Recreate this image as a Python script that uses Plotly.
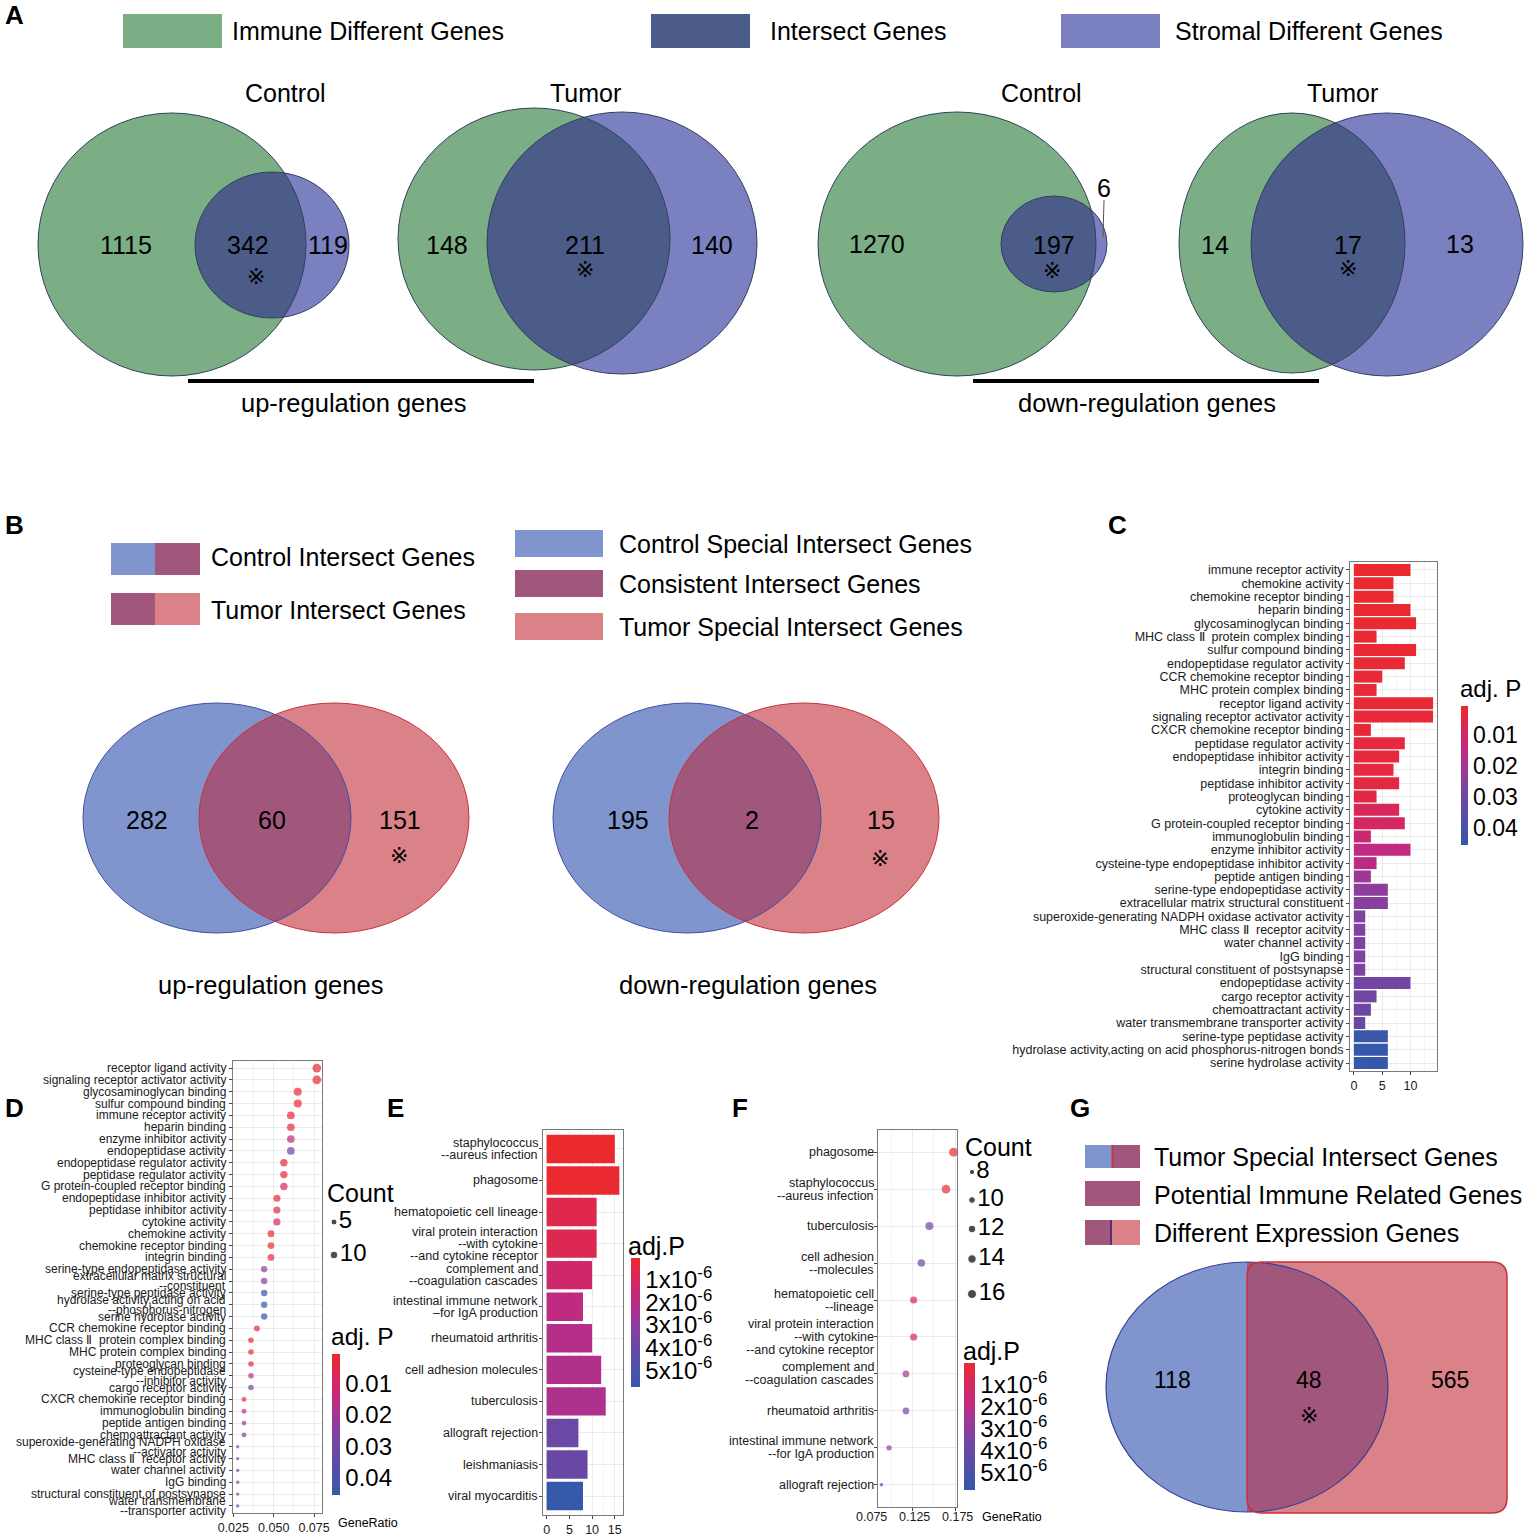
import numpy as np
import plotly.graph_objects as go

W, H = 1527, 1536
FONT = "Liberation Sans, Arial, Helvetica, sans-serif"
SYMF = "DejaVu Sans, Noto Sans CJK SC, sans-serif"
MARK = "\u203b"
SP = "\u00a0"

# ======================= DATA =======================
# Panel A (Venn counts)
a_titles = ["Control", "Tumor", "Control", "Tumor"]
a_immune_only = [1115, 148, 1270, 14]
a_intersect = [342, 211, 197, 17]
a_stromal_only = [119, 140, 6, 13]
a_legend = ["Immune Different Genes", "Intersect Genes", "Stromal Different Genes"]
a_captions = ["up-regulation genes", "down-regulation genes"]

# Panel B (Venn counts)
b_control_special = [282, 195]
b_consistent = [60, 2]
b_tumor_special = [151, 15]
b_captions = ["up-regulation genes", "down-regulation genes"]
b_legend_left = ["Control Intersect Genes", "Tumor Intersect Genes"]
b_legend_right = ["Control Special Intersect Genes", "Consistent Intersect Genes",
                  "Tumor Special Intersect Genes"]

# Panel G (Venn counts)
g_values = [118, 48, 565]
g_legend = ["Tumor Special Intersect Genes", "Potential Immune Related Genes",
            "Different Expression Genes"]

# Panel C (GO bar chart)
c_terms = [
    "immune receptor activity", "chemokine activity", "chemokine receptor binding",
    "heparin binding", "glycosaminoglycan binding",
    "MHC class \u2161" + SP + " protein complex binding", "sulfur compound binding",
    "endopeptidase regulator activity", "CCR chemokine receptor binding",
    "MHC protein complex binding", "receptor ligand activity",
    "signaling receptor activator activity", "CXCR chemokine receptor binding",
    "peptidase regulator activity", "endopeptidase inhibitor activity", "integrin binding",
    "peptidase inhibitor activity", "proteoglycan binding", "cytokine activity",
    "G protein-coupled receptor binding", "immunoglobulin binding",
    "enzyme inhibitor activity", "cysteine-type endopeptidase inhibitor activity",
    "peptide antigen binding", "serine-type endopeptidase activity",
    "extracellular matrix structural constituent",
    "superoxide-generating NADPH oxidase activator activity",
    "MHC class \u2161" + SP + " receptor acitvity", "water channel activity", "IgG binding",
    "structural constituent of postsynapse", "endopeptidase activity",
    "cargo receptor activity", "chemoattractant activity",
    "water transmembrane transporter activity", "serine-type peptidase activity",
    "hydrolase activity,acting on acid phosphorus-nitrogen bonds",
    "serine hydrolase activity",
]
c_count = [10, 7, 7, 10, 11, 4, 11, 9, 5, 4, 14, 14, 3, 9, 8, 7, 8, 4, 8, 9, 3, 10, 4, 3,
           6, 6, 2, 2, 2, 2, 2, 10, 4, 3, 2, 6, 6, 6]
c_padj = [0.0006, 0.0010, 0.0011, 0.0012, 0.0013, 0.0015, 0.0016, 0.0018, 0.0019, 0.0021,
          0.0023, 0.0023, 0.0026, 0.0029, 0.0031, 0.0034, 0.0037, 0.0041, 0.0075, 0.0085,
          0.0115, 0.0150, 0.0160, 0.0205, 0.0240, 0.0245, 0.0265, 0.0265, 0.0265, 0.0265,
          0.0265, 0.0290, 0.0295, 0.0300, 0.0320, 0.0440, 0.0455, 0.0455]

# Panel D (GO dot plot)
d_terms = [
    "receptor ligand activity", "signaling receptor activator activity",
    "glycosaminoglycan binding", "sulfur compound binding", "immune receptor activity",
    "heparin binding", "enzyme inhibitor activity", "endopeptidase activity",
    "endopeptidase regulator activity", "peptidase regulator activity",
    "G protein-coupled receptor binding", "endopeptidase inhibitor activity",
    "peptidase inhibitor activity", "cytokine activity", "chemokine activity",
    "chemokine receptor binding", "integrin binding", "serine-type endopeptidase activity",
    "extracellular matrix structural<br>--constituent", "serine-type peptidase activity",
    "hydrolase activity,acting on acid<br>--phosphorus-nitrogen", "serine hydrolase activity",
    "CCR chemokine receptor binding", "MHC class \u2161" + SP + " protein complex binding",
    "MHC protein complex binding", "proteoglycan binding",
    "cysteine-type endopeptidase<br>--inhibitor activity", "cargo receptor activity",
    "CXCR chemokine receptor binding", "immunoglobulin binding", "peptide antigen binding",
    "chemoattractant activity", "superoxide-generating NADPH oxidase<br>--activator activity",
    "MHC class \u2161" + SP + " receptor activity", "water channel activity", "IgG binding",
    "structural constituent of postsynapse", "water transmembrane<br>--transporter activity",
]
d_ratio = [0.0767, 0.0767, 0.0649, 0.0649, 0.0606, 0.0606, 0.0606, 0.0606, 0.0563, 0.0563,
           0.0563, 0.0520, 0.0520, 0.0520, 0.0483, 0.0483, 0.0483, 0.0441, 0.0441, 0.0441,
           0.0441, 0.0441, 0.0396, 0.0359, 0.0359, 0.0359, 0.0359, 0.0359, 0.0316, 0.0316,
           0.0316, 0.0316, 0.0277, 0.0277, 0.0277, 0.0277, 0.0277, 0.0277]
d_count = [14, 14, 11, 11, 10, 10, 10, 10, 9, 9, 9, 8, 8, 8, 7, 7, 7, 6, 6, 6, 6, 6, 5, 4, 4,
           4, 4, 4, 3, 3, 3, 3, 2, 2, 2, 2, 2, 2]
d_padj = [0.0023, 0.0023, 0.0013, 0.0016, 0.0006, 0.0012, 0.0150, 0.0290, 0.0018, 0.0029,
          0.0085, 0.0031, 0.0037, 0.0075, 0.0010, 0.0011, 0.0034, 0.0240, 0.0245, 0.0440,
          0.0455, 0.0455, 0.0019, 0.0015, 0.0021, 0.0041, 0.0160, 0.0295, 0.0026, 0.0115,
          0.0205, 0.0300, 0.0265, 0.0265, 0.0265, 0.0265, 0.0265, 0.0320]

# Panel E (KEGG bar chart)
e_terms = ["staphylococcus<br>--aureus infection", "phagosome", "hematopoietic cell lineage",
           "viral protein interaction<br>--with cytokine<br>--and cytokine receptor",
           "complement and<br>--coagulation cascades",
           "intestinal immune network<br>\u2013for IgA production", "rheumatoid arthritis",
           "cell adhesion molecules", "tuberculosis", "allograft rejection", "leishmaniasis",
           "viral myocarditis"]
e_count = [15, 16, 11, 11, 10, 8, 10, 12, 13, 7, 9, 8]
e_padj = [2e-8, 5e-8, 6e-7, 7e-7, 1.3e-6, 1.9e-6, 2.1e-6, 2.2e-6, 2.3e-6, 3.9e-6, 4.0e-6,
          5.75e-6]

# Panel F (KEGG dot plot)
f_terms = ["phagosome", "staphylococcus<br>--aureus infection", "tuberculosis",
           "cell adhesion<br>--molecules", "hematopoietic cell<br>--lineage",
           "viral protein interaction<br>--with cytokine<br>--and cytokine receptor",
           "complement and<br>--coagulation cascades", "rheumatoid arthritis",
           "intestinal immune network<br>--for IgA production", "allograft rejection"]
f_ratio = [0.1730, 0.1642, 0.1448, 0.1354, 0.1264, 0.1264, 0.1174, 0.1174, 0.0977, 0.0888]
f_count = [16, 15, 13, 12, 11, 11, 10, 10, 8, 7]
f_padj = [1e-8, 2e-7, 3.9e-6, 3.8e-6, 8e-7, 9e-7, 2.3e-6, 3.5e-6, 2.7e-6, 5.8e-6]

# colourbar / legend / axis tick values
p_ticks_go = [0.01, 0.02, 0.03, 0.04]
p_ticks_kegg = [1e-6, 2e-6, 3e-6, 4e-6, 5e-6]
d_count_legend = [5, 10]
f_count_legend = [8, 10, 12, 14, 16]
f_ratio_ticks = [0.075, 0.125, 0.175]

# ======================= STYLE / GEOMETRY =======================
GREEN, INTER, PURP = "#7BAE84", "#4B5C88", "#7A80C0"
BLUE, MAUVE, PINK = "#8095CD", "#A0577B", "#DA8288"
RB = [[0, "#EC2A2D"], [0.15, "#D9275A"], [0.32, "#C02A80"], [0.45, "#9F3795"],
      [0.55, "#8541A0"], [0.7, "#6649A4"], [1, "#3558AA"]]

# plot panels (pixel boxes: left, right, top, bottom)
BOX_C = (1350, 1437, 562, 1071)
BOX_D = (233, 322, 1061, 1513)
BOX_E = (543, 623, 1130, 1515)
BOX_F = (878, 957, 1130, 1507)
RANGE_F = [0.0848, 0.177]


def dx(l, r):
    return [l / W, r / W]


def dy(t, b):
    return [1 - b / H, 1 - t / H]


shapes, annots = [], []


def txt(x, y, s, size, xanchor="center", family=FONT, bold=False, color="black"):
    if bold:
        s = "<b>" + s + "</b>"
    annots.append(dict(x=x, y=y, xref="x5", yref="y5", text=s, showarrow=False,
                       xanchor=xanchor, yanchor="middle",
                       font=dict(family=family, size=size, color=color)))


def rect(x0, y0, x1, y1, fill):
    shapes.append(dict(type="rect", xref="x5", yref="y5", x0=x0, y0=y0, x1=x1, y1=y1,
                       fillcolor=fill, line=dict(width=0)))


def line(x0, y0, x1, y1, color="black", w=1):
    shapes.append(dict(type="line", xref="x5", yref="y5", x0=x0, y0=y0, x1=x1, y1=y1,
                       line=dict(color=color, width=w)))


def ellipse(e, fill=None, lc=None, lw=0):
    cx, cy, rx, ry = e
    shapes.append(dict(type="circle", xref="x5", yref="y5", x0=cx - rx, x1=cx + rx,
                       y0=cy - ry, y1=cy + ry, fillcolor=fill or "rgba(0,0,0,0)",
                       line=dict(width=lw, color=lc or "rgba(0,0,0,0)")))


def path(p, fill=None, lc=None, lw=0):
    shapes.append(dict(type="path", xref="x5", yref="y5", path=p,
                       fillcolor=fill or "rgba(0,0,0,0)",
                       line=dict(width=lw, color=lc or "rgba(0,0,0,0)")))


def inside(x, y, e):
    cx, cy, rx, ry = e
    return ((x - cx) / rx) ** 2 + ((y - cy) / ry) ** 2 <= 1.0


def poly_path(xs, ys):
    mx, my = xs.mean(), ys.mean()
    o = np.argsort(np.arctan2(ys - my, xs - mx))
    pts = [f"{x:.2f},{y:.2f}" for x, y in zip(xs[o], ys[o])]
    return "M " + " L ".join(pts) + " Z"


def lens(e1, e2, n=900):
    t = np.linspace(0, 2 * np.pi, n, endpoint=False)
    x1 = e1[0] + e1[2] * np.cos(t); y1 = e1[1] + e1[3] * np.sin(t)
    x2 = e2[0] + e2[2] * np.cos(t); y2 = e2[1] + e2[3] * np.sin(t)
    m1 = inside(x1, y1, e2); m2 = inside(x2, y2, e1)
    return poly_path(np.concatenate([x1[m1], x2[m2]]), np.concatenate([y1[m1], y2[m2]]))


def ellipse_rect(e, r, n=900):
    x0, y0, x1, y1 = r
    t = np.linspace(0, 2 * np.pi, n, endpoint=False)
    ex = e[0] + e[2] * np.cos(t); ey = e[1] + e[3] * np.sin(t)
    m = (ex >= x0) & (ex <= x1) & (ey >= y0) & (ey <= y1)
    s = np.linspace(0, 1, 300)
    bx = np.concatenate([x0 + (x1 - x0) * s, np.full_like(s, x1), x1 - (x1 - x0) * s, np.full_like(s, x0)])
    by = np.concatenate([np.full_like(s, y0), y0 + (y1 - y0) * s, np.full_like(s, y1), y1 - (y1 - y0) * s])
    mb = inside(bx, by, e)
    return poly_path(np.concatenate([ex[m], bx[mb]]), np.concatenate([ey[m], by[mb]]))


def rrect(x0, y0, x1, y1, r):
    return (f"M {x0 + r},{y0} L {x1 - r},{y0} Q {x1},{y0} {x1},{y0 + r} L {x1},{y1 - r} "
            f"Q {x1},{y1} {x1 - r},{y1} L {x0 + r},{y1} Q {x0},{y1} {x0},{y1 - r} "
            f"L {x0},{y0 + r} Q {x0},{y0} {x0 + r},{y0} Z")


def cat_labels(terms, yref, x_right, size, gap):
    """Category labels drawn line by line (tight line spacing like the original)."""
    for t in terms:
        parts = t.split("<br>")
        n = len(parts)
        for i, p in enumerate(parts):
            annots.append(dict(x=x_right / W, xref="paper", y=t, yref=yref, text=p,
                               showarrow=False, xanchor="right", yanchor="middle",
                               yshift=((n - 1) / 2 - i) * gap, borderpad=0,
                               font=dict(family=FONT, size=size, color="#1A1A1A")))


# ---------- panel letters ----------
for L, (x, y) in zip("ABCDEFG", [(14, 15), (14, 525), (1117, 525), (14, 1108), (395, 1108),
                                   (740, 1108), (1080, 1108)]):
    txt(x, y, L, 26, bold=True)

# ---------- Panel A ----------
for (x0, x1, tx), col, lab in zip([(123, 222, 230), (651, 750, 768), (1061, 1160, 1173)],
                                  [GREEN, INTER, PURP], a_legend):
    rect(x0, 14, x1, 48, col)
    txt(tx, 31, lab, 25, xanchor="left")

A_GEO = [
    dict(imm=(172, 244.5, 134, 131.5), stro=(272, 245, 77, 73), title=(285, 93),
         li=(126, 245), lx=(248, 245), ls=(328, 245), mk=(256, 276)),
    dict(imm=(534, 239, 136, 131), stro=(622, 243, 135, 131), title=(585, 93),
         li=(447, 245), lx=(585, 245), ls=(712, 245), mk=(585, 269)),
    dict(imm=(957, 244, 139, 132), stro=(1054, 244, 53, 48), title=(1041, 93),
         li=(877, 244), lx=(1054, 245), ls=(1104, 188), mk=(1052, 270)),
    dict(imm=(1292, 243, 113, 130), stro=(1387, 244.5, 136, 131.5), title=(1342, 93),
         li=(1215, 245), lx=(1348, 245), ls=(1460, 244), mk=(1348, 268)),
]
for g, ttl, vi, vx, vs in zip(A_GEO, a_titles, a_immune_only, a_intersect, a_stromal_only):
    ellipse(g["imm"], fill=GREEN)
    ellipse(g["stro"], fill=PURP)
    path(lens(g["imm"], g["stro"]), fill=INTER)
    ellipse(g["imm"], lc="#34405E", lw=1)
    ellipse(g["stro"], lc="#34405E", lw=1)
    txt(*g["title"], ttl, 25)
    txt(*g["li"], str(vi), 25)
    txt(*g["lx"], str(vx), 25)
    txt(*g["ls"], str(vs), 25)
    txt(*g["mk"], MARK, 22, family=SYMF)
line(1104, 200, 1103, 237, color="#555555", w=1)
for (x0, x1, y), (cx, cy), cap in zip([(188, 534, 381), (973, 1319, 381)],
                                      [(353, 403), (1147, 403)], a_captions):
    line(x0, y, x1, y, color="black", w=4)
    txt(cx, cy, cap, 25.5)

# ---------- Panel B ----------
rect(111, 543, 155, 575, BLUE); rect(155, 543, 200, 575, MAUVE)
rect(111, 593, 155, 625, MAUVE); rect(155, 593, 200, 625, PINK)
txt(209, 557, b_legend_left[0], 25, xanchor="left")
txt(209, 610, b_legend_left[1], 25, xanchor="left")
for (y0, y1), col, lab in zip([(530, 557), (570, 597), (613, 640)], [BLUE, MAUVE, PINK],
                              b_legend_right):
    rect(515, y0, 603, y1, col)
    txt(617, (y0 + y1) / 2, lab, 25, xanchor="left")

B_GEO = [
    dict(c=(217, 818, 134, 115), t=(334, 818, 135, 115), l1=(147, 820), l2=(272, 820),
         l3=(400, 820), mk=(399, 855), cap=(270, 985)),
    dict(c=(687, 818, 134, 115), t=(804, 818, 135, 115), l1=(628, 820), l2=(752, 820),
         l3=(881, 820), mk=(880, 858), cap=(748, 985)),
]
for g, v1, v2, v3, cap in zip(B_GEO, b_control_special, b_consistent, b_tumor_special,
                              b_captions):
    ellipse(g["c"], fill=BLUE)
    ellipse(g["t"], fill=PINK)
    path(lens(g["c"], g["t"]), fill=MAUVE)
    ellipse(g["c"], lc="#3F4FA2", lw=1)
    ellipse(g["t"], lc="#C8323C", lw=1)
    txt(*g["l1"], str(v1), 25)
    txt(*g["l2"], str(v2), 25)
    txt(*g["l3"], str(v3), 25)
    txt(*g["mk"], MARK, 22, family=SYMF)
    txt(*g["cap"], cap, 25.5)

# ---------- Panel G ----------
rect(1085, 1145, 1112, 1168, BLUE); rect(1112, 1145, 1140, 1168, MAUVE)
line(1112.5, 1145, 1112.5, 1168, color="#D0303A", w=2)
rect(1085, 1181, 1140, 1206, MAUVE)
rect(1085, 1220, 1112, 1245, MAUVE); rect(1112, 1220, 1140, 1245, PINK)
line(1111, 1220, 1111, 1245, color="#5B2C78", w=2)
for y, lab in zip([1157, 1195, 1233], g_legend):
    txt(1152, y, lab, 25, xanchor="left")
G_ELL = (1247, 1387, 141, 125)
G_RECT = (1247, 1262, 1507, 1513)
ellipse(G_ELL, fill=BLUE)
path(rrect(*G_RECT, 15), fill=PINK)
path(ellipse_rect(G_ELL, G_RECT), fill=MAUVE)
ellipse(G_ELL, lc="#3A3F98", lw=1.2)
path(rrect(*G_RECT, 15), lc="#C8303A", lw=1.5)
for (x, y), v in zip([(1172, 1380), (1309, 1380), (1450, 1380)], g_values):
    txt(x, y, str(v), 23)
txt(1309, 1415, MARK, 22, family=SYMF)

# ======================= TRACES =======================
fig = go.Figure()
neg = lambda arr: [-v for v in arr]

fig.add_trace(go.Bar(x=c_count, y=c_terms, orientation="h", width=0.9,
                     marker=dict(color=neg(c_padj), coloraxis="coloraxis", line=dict(width=0)),
                     xaxis="x", yaxis="y"))


def size_d(c):
    lo, hi = min(d_count), max(d_count)
    return 3.3 + 5.4 * np.sqrt((c - lo) / (hi - lo))


def size_f(c):
    lo, hi = min(f_count), max(f_count)
    return 3.5 + 5.5 * np.sqrt((c - lo) / (hi - lo))


fig.add_trace(go.Scatter(x=d_ratio, y=d_terms, mode="markers", cliponaxis=False,
                         marker=dict(size=[size_d(c) for c in d_count], color=neg(d_padj),
                                     coloraxis="coloraxis2", line=dict(width=0)),
                         xaxis="x2", yaxis="y2"))
fig.add_trace(go.Bar(x=e_count, y=e_terms, orientation="h", width=0.9,
                     marker=dict(color=neg(e_padj), coloraxis="coloraxis3", line=dict(width=0)),
                     xaxis="x3", yaxis="y3"))
fig.add_trace(go.Scatter(x=f_ratio, y=f_terms, mode="markers", cliponaxis=False,
                         marker=dict(size=[size_f(c) for c in f_count], color=neg(f_padj),
                                     coloraxis="coloraxis4", line=dict(width=0)),
                         xaxis="x4", yaxis="y4"))

# Count size legends (on the page overlay axis)
fig.add_trace(go.Scatter(x=[334] * len(d_count_legend), y=[1222, 1255], mode="markers+text",
                         text=[str(c) for c in d_count_legend], textposition="middle right",
                         textfont=dict(family=FONT, size=24, color="black"),
                         marker=dict(size=[size_d(c) for c in d_count_legend], color="black"),
                         xaxis="x5", yaxis="y5", cliponaxis=False))
fig.add_trace(go.Scatter(x=[972] * len(f_count_legend), y=[1172, 1200, 1229, 1259, 1294],
                         mode="markers+text",
                         text=[str(c) for c in f_count_legend], textposition="middle right",
                         textfont=dict(family=FONT, size=24, color="black"),
                         marker=dict(size=[size_f(c) for c in f_count_legend], color="black"),
                         xaxis="x5", yaxis="y5", cliponaxis=False))
txt(360, 1193, "Count", 25)
txt(998, 1147, "Count", 25)

# colourbar titles
txt(1490, 688, "adj. P", 24)
txt(362, 1336, "adj. P", 24.5)
txt(656, 1246, "adj.P", 25)
txt(991, 1351, "adj.P", 25)

# axis titles / F tick labels (F labels partly lie left of the panel, drawn in page space)
txt(368, 1523, "GeneRatio", 12.5)
txt(1012, 1517, "GeneRatio", 12.5)
for v in f_ratio_ticks:
    px = BOX_F[0] + (v - RANGE_F[0]) / (RANGE_F[1] - RANGE_F[0]) * (BOX_F[1] - BOX_F[0])
    txt(px + 2, 1517, f"{v:.3f}", 12.5, color="#1A1A1A")

# category labels with tight line spacing
cat_labels(d_terms, "y2", BOX_D[0] - 6, 12, 10)
cat_labels(e_terms, "y3", BOX_E[0] - 4, 12.5, 12)
cat_labels(f_terms, "y4", BOX_F[0] - 3, 12.5, 13)

# ======================= LAYOUT =======================
TICKF = lambda s: dict(family=FONT, size=s, color="#1A1A1A")
base = dict(showline=True, mirror=True, linecolor="#7A7A7A", linewidth=1, ticks="outside",
            ticklen=3, tickcolor="#444444", tickwidth=1, showgrid=True, gridcolor="#EBEBEB",
            gridwidth=1, zeroline=False, automargin=False, fixedrange=True)
minor = lambda vals: dict(tickvals=vals, showgrid=True, gridcolor="#F3F3F3", gridwidth=1,
                          ticks="")


def cat_axis(box, terms, anchor, show_labels=True, size=12):
    return dict(base, domain=dy(box[2], box[3]), anchor=anchor, type="category",
                categoryorder="array", categoryarray=terms, tickmode="array",
                tickvals=terms, ticktext=terms, showticklabels=show_labels,
                range=[len(terms) - 0.4, -0.6], tickfont=TICKF(size))


def cbar(x, top, bot, thick, vals, texts, size):
    return dict(x=x / W, xanchor="left", xpad=0, y=1 - (top + bot) / 2 / H, yanchor="middle",
                ypad=0, len=bot - top, lenmode="pixels", thickness=thick,
                thicknessmode="pixels", outlinewidth=0, ticks="", tickvals=vals,
                ticktext=texts, tickfont=dict(family=FONT, size=size, color="black"))


go_txt = [f"{v:.2f}" for v in p_ticks_go]
kg_txt = [f"{int(round(v * 1e6))}x10<sup>-6</sup>" for v in p_ticks_kegg]

fig.update_layout(
    width=W, height=H, margin=dict(l=0, r=0, t=0, b=0), template="none",
    paper_bgcolor="white", plot_bgcolor="rgba(0,0,0,0)", showlegend=False,
    font=dict(family=FONT, color="black"),
    # C
    xaxis=dict(base, domain=dx(BOX_C[0], BOX_C[1]), anchor="y", range=[-0.7, 14.7],
               tickvals=[0, 5, 10], tickfont=TICKF(12.5), minor=minor([2.5, 7.5, 12.5])),
    yaxis=cat_axis(BOX_C, c_terms, "x", True, 12.5),
    # D
    xaxis2=dict(base, domain=dx(BOX_D[0], BOX_D[1]), anchor="y2", range=[0.0248, 0.0799],
                tickvals=[0.025, 0.05, 0.075], ticktext=["0.025", "0.050", "0.075"],
                tickfont=TICKF(12.5), minor=minor([0.0375, 0.0625])),
    yaxis2=cat_axis(BOX_D, d_terms, "x2", False),
    # E
    xaxis3=dict(base, domain=dx(BOX_E[0], BOX_E[1]), anchor="y3", range=[-0.8, 16.8],
                tickvals=[0, 5, 10, 15], tickfont=TICKF(12.5), minor=minor([2.5, 7.5, 12.5])),
    yaxis3=cat_axis(BOX_E, e_terms, "x3", False),
    # F
    xaxis4=dict(base, domain=dx(BOX_F[0], BOX_F[1]), anchor="y4", range=RANGE_F,
                tickvals=f_ratio_ticks, showticklabels=False, minor=minor([0.1, 0.15])),
    yaxis4=cat_axis(BOX_F, f_terms, "x4", False),
    # page overlay (pixel coordinates)
    xaxis5=dict(domain=[0, 1], range=[0, W], visible=False, anchor="y5", fixedrange=True),
    yaxis5=dict(domain=[0, 1], range=[H, 0], visible=False, anchor="x5", fixedrange=True),
    coloraxis=dict(colorscale=RB, reversescale=True, cmin=-max(c_padj), cmax=-min(c_padj),
                   colorbar=cbar(1461, 706, 845, 7, neg(p_ticks_go), go_txt, 23)),
    coloraxis2=dict(colorscale=RB, reversescale=True, cmin=-max(d_padj), cmax=-min(d_padj),
                    colorbar=cbar(332, 1354, 1495, 8, neg(p_ticks_go), go_txt, 24)),
    coloraxis3=dict(colorscale=RB, reversescale=True, cmin=-max(e_padj), cmax=-min(e_padj),
                    colorbar=cbar(631, 1258, 1387, 9, neg(p_ticks_kegg), kg_txt, 24)),
    coloraxis4=dict(colorscale=RB, reversescale=True, cmin=-max(f_padj), cmax=-min(f_padj),
                    colorbar=cbar(964, 1363, 1490, 11, neg(p_ticks_kegg), kg_txt, 24)),
    shapes=shapes, annotations=annots,
)

fig.write_html("out.html", config={"displayModeBar": False},
               post_script="document.body.style.margin='0px';document.body.style.overflow='hidden';")
